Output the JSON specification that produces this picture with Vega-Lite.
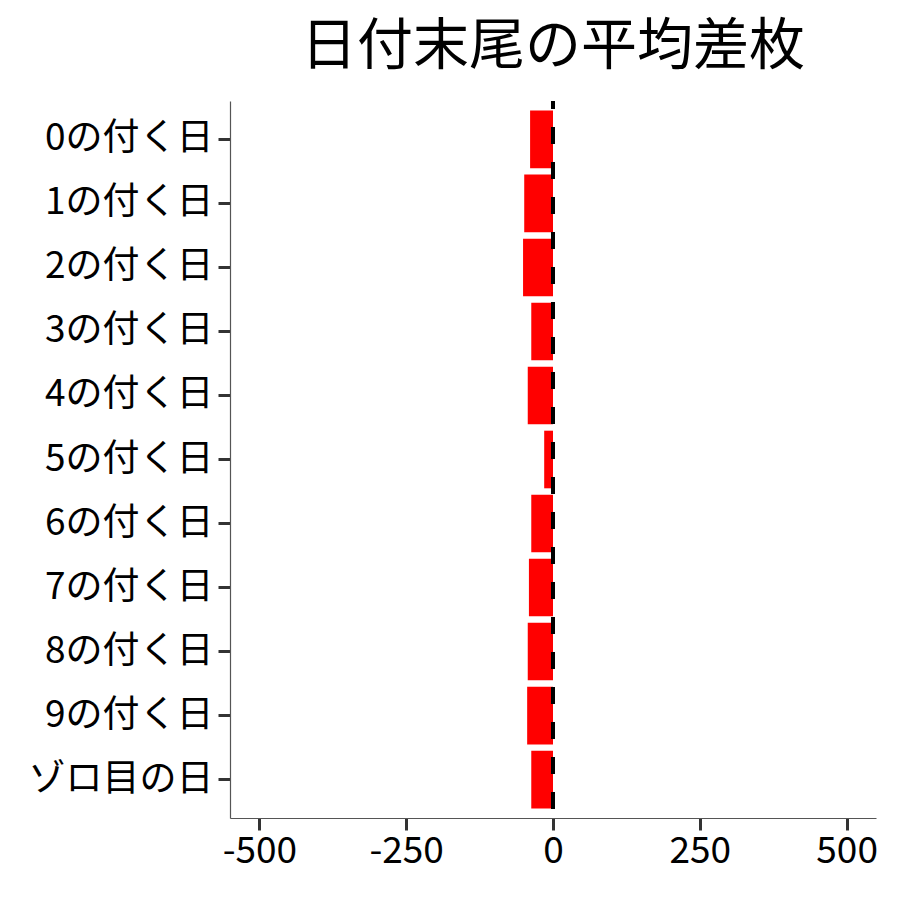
{
  "$schema": "https://vega.github.io/schema/vega-lite/v6.json",
  "width": 646,
  "height": 717,
  "autosize": "none",
  "padding": {"left": 230, "top": 101, "right": 24, "bottom": 82},
  "background": "white",
  "title": {
    "text": "日付末尾の平均差枚",
    "anchor": "middle",
    "frame": "group",
    "font": "Noto Sans CJK JP",
    "fontSize": 56,
    "fontWeight": "normal",
    "color": "black",
    "offset": 24
  },
  "data": {
    "values": [
      {"day": "0の付く日", "diff": -39},
      {"day": "1の付く日", "diff": -49},
      {"day": "2の付く日", "diff": -51},
      {"day": "3の付く日", "diff": -37},
      {"day": "4の付く日", "diff": -43},
      {"day": "5の付く日", "diff": -15},
      {"day": "6の付く日", "diff": -37},
      {"day": "7の付く日", "diff": -41},
      {"day": "8の付く日", "diff": -43},
      {"day": "9の付く日", "diff": -44},
      {"day": "ゾロ目の日", "diff": -37}
    ]
  },
  "layer": [
    {
      "mark": {"type": "bar", "color": "#ff0000"},
      "encoding": {
        "y": {
          "field": "day",
          "type": "nominal",
          "sort": null,
          "title": null,
          "scale": {"paddingInner": 0.1, "paddingOuter": 0.15},
          "axis": {"labelLimit": 0}
        },
        "x": {
          "field": "diff",
          "type": "quantitative",
          "title": null,
          "scale": {"domain": [-550, 550], "nice": false, "zero": false},
          "axis": {
            "values": [-500, -250, 0, 250, 500],
            "labelExpr": "datum.value < 0 ? '-' + abs(datum.value) : '' + datum.value"
          }
        }
      }
    },
    {
      "mark": {"type": "rule", "color": "black", "strokeWidth": 3, "strokeDash": [17, 18], "strokeDashOffset": 9},
      "encoding": {"x": {"datum": 0}}
    }
  ],
  "config": {
    "view": {"stroke": null},
    "axis": {
      "grid": false,
      "domainColor": "#555555",
      "domainWidth": 1.2,
      "tickColor": "#333333",
      "tickWidth": 3,
      "tickSize": 12,
      "labelFont": "Noto Sans CJK JP",
      "labelFontSize": 37,
      "labelColor": "black",
      "labelPadding": 5
    },
    "axisY": {"labelPadding": 5},
    "axisX": {"labelPadding": 3}
  }
}
